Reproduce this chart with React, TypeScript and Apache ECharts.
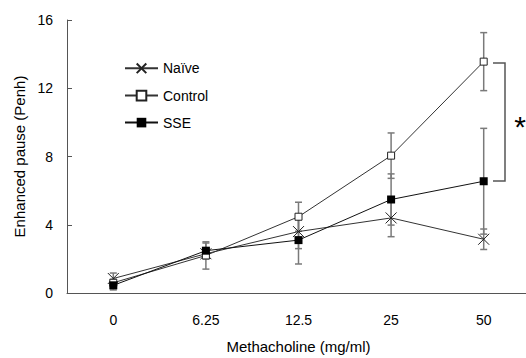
import React, { useEffect, useRef } from "react";
import * as echarts from "echarts";

const categories = ["0", "6.25", "12.5", "25", "50"];
const naive = [0.85, 2.3, 3.6, 4.4, 3.15];
const naiveErr = [0.32, 0.3, 1.0, 1.1, 0.6];
const control = [0.6, 2.2, 4.47, 8.05, 13.56];
const controlErr = [0.2, 0.8, 0.85, 1.33, 1.7];
const sse = [0.45, 2.48, 3.1, 5.48, 6.55];
const sseErr = [0.27, 0.45, 1.4, 1.5, 3.1];

const FONT = "Liberation Sans, Arial, sans-serif";
const LINE = "#333";
const ERR = "#7a7a7a";

function errSeries(name: string, vals: number[], errs: number[]) {
  return {
    type: "custom",
    name: name + " err",
    z: 1,
    silent: true,
    data: vals.map((v, i) => [i, v - errs[i], v + errs[i]]),
    renderItem: (params: any, api: any) => {
      const x = api.value(0);
      const lo = api.coord([x, api.value(1)]);
      const hi = api.coord([x, api.value(2)]);
      const w = 3.5;
      const style = { stroke: ERR, lineWidth: 1.5 };
      return {
        type: "group",
        children: [
          { type: "line", shape: { x1: lo[0], y1: lo[1], x2: hi[0], y2: hi[1] }, style },
          { type: "line", shape: { x1: lo[0] - w, y1: lo[1], x2: lo[0] + w, y2: lo[1] }, style },
          { type: "line", shape: { x1: hi[0] - w, y1: hi[1], x2: hi[0] + w, y2: hi[1] }, style },
        ],
      };
    },
  };
}

export default function App() {
  const ref = useRef<HTMLDivElement>(null);
  useEffect(() => {
    if (!ref.current) return;
    const chart = echarts.init(ref.current, undefined, { renderer: "svg" });
    chart.setOption({
      animation: false,
      backgroundColor: "#fff",
      textStyle: { fontFamily: FONT },
      grid: {
        left: 67,
        top: 20,
        bottom: 65,
        right: -4,
        containLabel: false,
        outerBoundsMode: "none",
      },
      legend: {
        orient: "vertical",
        left: 124,
        top: 61,
        padding: 0,
        itemWidth: 33,
        itemHeight: 12,
        itemGap: 13,
        textStyle: { fontFamily: FONT, fontSize: 14, color: "#000" },
        data: ["Naïve", "Control", "SSE"],
      },
      xAxis: {
        type: "category",
        data: categories,
        boundaryGap: true,
        name: "Methacholine (mg/ml)",
        nameLocation: "middle",
        nameGap: 46,
        nameTextStyle: { fontFamily: FONT, fontSize: 15, color: "#000" },
        axisLine: { lineStyle: { color: "#555", width: 1 } },
        axisTick: { inside: true, length: 5, lineStyle: { color: "#555" } },
        axisLabel: { fontFamily: FONT, fontSize: 14, color: "#000", margin: 20 },
      },
      yAxis: {
        type: "value",
        min: 0,
        max: 16,
        interval: 4,
        name: "Enhanced pause (Penh)",
        nameLocation: "middle",
        nameGap: 40,
        nameTextStyle: { fontFamily: FONT, fontSize: 15, color: "#000" },
        axisLine: { show: true, lineStyle: { color: "#555", width: 1 } },
        axisTick: { show: true, inside: true, length: 5, lineStyle: { color: "#555" } },
        axisLabel: { fontFamily: FONT, fontSize: 14, color: "#000", margin: 14 },
        splitLine: { show: false },
      },
      series: [
        errSeries("Naïve", naive, naiveErr),
        errSeries("Control", control, controlErr),
        errSeries("SSE", sse, sseErr),
        {
          type: "line",
          name: "Naïve",
          data: naive,
          z: 3,
          symbol: "path://M0,0L10,10M10,0L0,10",
          symbolSize: 11,
          lineStyle: { color: LINE, width: 1 },
          itemStyle: { color: "none", borderColor: "#222", borderWidth: 1 },
        },
        {
          type: "line",
          name: "Control",
          data: control,
          z: 4,
          symbol: "rect",
          symbolSize: 7,
          lineStyle: { color: LINE, width: 1 },
          itemStyle: { color: "#fff", borderColor: "#222", borderWidth: 1 },
        },
        {
          type: "line",
          name: "SSE",
          data: sse,
          z: 5,
          symbol: "rect",
          symbolSize: 8,
          lineStyle: { color: "#111", width: 1 },
          itemStyle: { color: "#000", borderColor: "#000", borderWidth: 0 },
        },
      ],
      graphic: [
        {
          type: "polyline",
          shape: { points: [[493, 63], [505, 63], [505, 181], [493, 181]] },
          style: { stroke: "#555", lineWidth: 1.5, fill: "none" },
        },
        {
          type: "text",
          x: 520,
          y: 126,
          style: {
            text: "*",
            fontFamily: FONT,
            fontSize: 30,
            fill: "#000",
            align: "center",
            verticalAlign: "middle",
          },
        },
      ],
    });
    return () => chart.dispose();
  }, []);
  return (
    <div
      ref={ref}
      style={{ position: "fixed", left: 0, top: 0, width: 526, height: 358 }}
    />
  );
}
